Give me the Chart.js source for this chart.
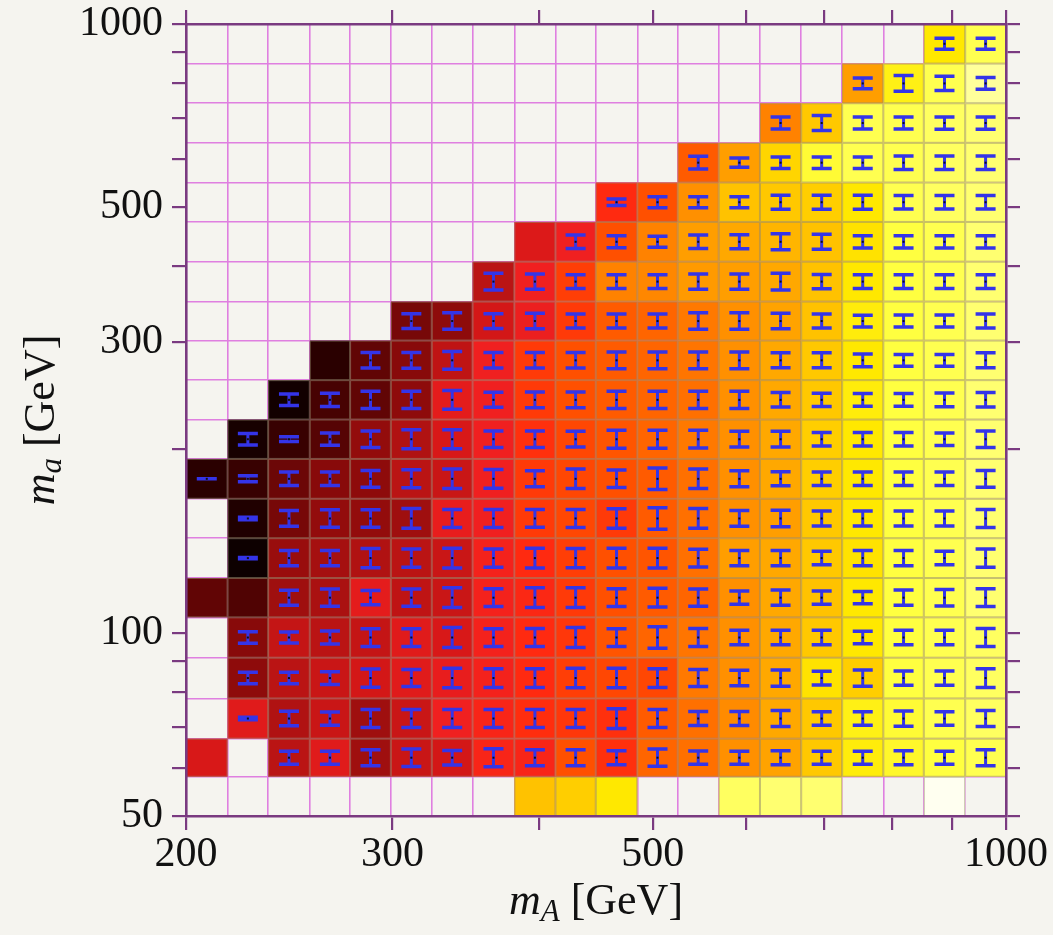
<!DOCTYPE html>
<html>
<head>
<meta charset="utf-8">
<title>m_A – m_a scan</title>
<script src="https://cdn.jsdelivr.net/npm/chart.js@4.4.1/dist/chart.umd.min.js"></script>
<style>
  html, body { margin: 0; padding: 0; background: #f5f4ef; }
  #wrap { width: 1053px; height: 935px; }
</style>
</head>
<body>
<div id="wrap"><canvas id="scan" width="1053" height="935"></canvas></div>
<script>
// ── scan binning (GeV) ─────────────────────────────
const mAEdges = [200, 217, 235, 255, 276, 299, 324, 351, 381, 413, 447, 485, 525, 569, 617, 669, 725, 786, 851, 923, 1000];
const maEdges = [50, 58, 67, 78, 91, 106, 123, 143, 166, 193, 224, 260, 302, 350, 407, 473, 549, 638, 741, 861, 1000];

const mATicks = [200, 300, 400, 500, 600, 700, 800, 900, 1000];
const mALabels = [200, 300, 500, 1000];
const maTicks = [50, 60, 70, 80, 90, 100, 200, 300, 400, 500, 600, 700, 800, 900, 1000];
const maLabels = [50, 100, 300, 500, 1000];

const _ = null;
// colour value of each cell, rows from m_a = 50 GeV upwards, columns from m_A = 200 GeV
const cellValue = [
  [_, _, _, _, _, _, _, _, .82, .84, .88, _, _, .96, .97, .97, _, _, 1.0, _],
  [.40, _, .34, .42, .29, .37, .39, .48, .48, .60, .52, .64, .66, .73, .77, .83, .89, .92, .94, .95],
  [_, .42, .32, .37, .29, .37, .46, .48, .51, .54, .52, .62, .66, .72, .78, .83, .90, .93, .95, .96],
  [_, .26, .34, .37, .39, .42, .44, .47, .50, .56, .58, .58, .68, .73, .78, .87, .84, .94, .95, .96],
  [_, .25, .36, .34, .36, .42, .40, .47, .50, .54, .61, .64, .67, .73, .78, .83, .88, .94, .95, .96],
  [.18, .15, .29, .31, .43, .35, .37, .47, .49, .55, .60, .62, .64, .73, .78, .82, .88, .94, .95, .97],
  [_, .01, .28, .30, .32, .34, .37, .47, .50, .56, .60, .61, .66, .76, .78, .83, .87, .94, .95, .97],
  [_, .05, .22, .27, .27, .29, .44, .46, .55, .58, .55, .62, .66, .73, .76, .83, .88, .94, .95, .97],
  [.07, .10, .20, .25, .26, .34, .37, .46, .55, .58, .60, .62, .66, .73, .78, .84, .88, .94, .95, .97],
  [_, .03, .10, .16, .27, .32, .40, .46, .52, .58, .61, .64, .68, .73, .78, .84, .88, .94, .95, .97],
  [_, _, .02, .13, .18, .26, .43, .46, .55, .60, .62, .64, .66, .73, .78, .83, .89, .94, .95, .97],
  [_, _, _, .07, .18, .25, .35, .46, .55, .60, .62, .64, .67, .73, .78, .83, .88, .94, .95, .97],
  [_, _, _, _, _, .22, .26, .39, .45, .55, .62, .64, .68, .73, .77, .82, .89, .94, .95, .97],
  [_, _, _, _, _, _, _, .34, .46, .56, .70, .71, .75, .76, .78, .82, .88, .94, .95, .97],
  [_, _, _, _, _, _, _, _, .41, .46, .60, .70, .76, .78, .80, .82, .87, .94, .95, .97],
  [_, _, _, _, _, _, _, _, _, _, .50, .60, .73, .82, .83, .84, .88, .95, .96, .97],
  [_, _, _, _, _, _, _, _, _, _, _, _, .62, .76, .85, .93, .95, .95, .96, .97],
  [_, _, _, _, _, _, _, _, _, _, _, _, _, _, .70, .83, .95, .95, .96, .97],
  [_, _, _, _, _, _, _, _, _, _, _, _, _, _, _, _, .76, .90, .95, .98],
  [_, _, _, _, _, _, _, _, _, _, _, _, _, _, _, _, _, _, .88, .95]
];

// spread of each cell, as a fraction of the bin height
const cellError = [
  [_, _, _, _, _, _, _, _, _, _, _, _, _, _, _, _, _, _, _, _],
  [_, _, .34, .34, .42, .46, .38, .47, .42, .42, .37, .45, .35, .34, .37, .34, .34, .37, .34, .42],
  [_, .06, .36, .33, .45, .45, .45, .45, .45, .45, .49, .45, .35, .35, .40, .34, .34, .38, .34, .40],
  [_, .28, .28, .31, .45, .42, .48, .46, .46, .48, .48, .46, .42, .38, .40, .34, .40, .35, .35, .46],
  [_, .29, .27, .32, .44, .44, .50, .44, .45, .50, .44, .53, .45, .36, .36, .36, .31, .36, .36, .45],
  [_, _, .38, .44, .36, .44, .50, .45, .50, .50, .45, .48, .44, .34, .39, .34, .31, .39, .42, .45],
  [_, .03, .38, .38, .48, .46, .50, .46, .50, .48, .50, .50, .45, .38, .38, .34, .38, .38, .34, .46],
  [_, .06, .40, .44, .44, .50, .46, .46, .45, .46, .49, .55, .50, .40, .42, .38, .38, .38, .38, .46],
  [0, .15, .34, .34, .42, .45, .49, .47, .40, .49, .44, .54, .49, .40, .35, .34, .34, .34, .34, .42],
  [_, .29, .12, .31, .42, .48, .48, .42, .42, .40, .46, .46, .45, .40, .40, .34, .34, .34, .32, .42],
  [_, _, .29, .34, .44, .44, .48, .38, .40, .40, .44, .44, .44, .44, .37, .34, .32, .32, .35, .37],
  [_, _, _, _, .39, .40, .45, .39, .39, .39, .42, .42, .42, .42, .38, .38, .32, .30, .30, .38],
  [_, _, _, _, _, .38, .42, .38, .40, .36, .36, .36, .42, .42, .40, .36, .30, .31, .31, .36],
  [_, _, _, _, _, _, _, .42, .38, .34, .34, .34, .38, .38, .42, .36, .34, .34, .34, .34],
  [_, _, _, _, _, _, _, _, _, .34, .30, .28, .34, .35, .40, .38, .31, .31, .31, .31],
  [_, _, _, _, _, _, _, _, _, _, .17, .28, .28, .28, .35, .35, .35, .34, .34, .34],
  [_, _, _, _, _, _, _, _, _, _, _, _, .32, .23, .29, .29, .29, .34, .34, .34],
  [_, _, _, _, _, _, _, _, _, _, _, _, _, _, .30, .38, .30, .30, .31, .31],
  [_, _, _, _, _, _, _, _, _, _, _, _, _, _, _, _, .27, .40, .36, .30],
  [_, _, _, _, _, _, _, _, _, _, _, _, _, _, _, _, _, _, .28, .28]
];

// ── colour scale ──────────────────────────────────
const heatStops = [
  [0.00, [8, 0, 0]],     [0.07, [42, 0, 0]],    [0.15, [80, 3, 3]],
  [0.25, [136, 10, 10]], [0.32, [176, 18, 18]], [0.40, [216, 24, 24]],
  [0.46, [240, 32, 32]], [0.50, [255, 42, 16]], [0.55, [255, 58, 8]],
  [0.60, [255, 80, 0]],  [0.66, [255, 112, 0]], [0.73, [255, 144, 0]],
  [0.78, [255, 168, 0]], [0.83, [255, 200, 0]], [0.88, [255, 232, 0]],
  [0.94, [255, 255, 64]], [0.97, [255, 255, 112]], [1.00, [255, 255, 240]]
];

function heatColor(v) {
  for (let k = 1; k < heatStops.length; k++) {
    const [v1, c1] = heatStops[k];
    if (v <= v1) {
      const [v0, c0] = heatStops[k - 1];
      const t = (v - v0) / (v1 - v0);
      const c = c0.map((a, n) => Math.round(a + (c1[n] - a) * t));
      return `rgb(${c[0]},${c[1]},${c[2]})`;
    }
  }
  return 'rgb(255,255,240)';
}

const purple = '#7a3a80';
const meshPink = '#df7fe0';
const barBlue = '#3434e8';
const serif = "'Liberation Serif', 'DejaVu Serif', serif";

// ── plugins ───────────────────────────────────────
const paper = {
  id: 'paper',
  beforeDraw(chart) {
    const { ctx, width, height } = chart;
    ctx.save();
    ctx.fillStyle = '#f5f4ef';
    ctx.fillRect(0, 0, width, height);
    ctx.restore();
  }
};

const heatmap = {
  id: 'heatmap',
  beforeDatasetsDraw(chart) {
    const { ctx, scales: { x, y } } = chart;
    ctx.save();
    cellValue.forEach((row, j) => row.forEach((v, i) => {
      if (v === null) return;
      const x0 = x.getPixelForValue(mAEdges[i]);
      const x1 = x.getPixelForValue(mAEdges[i + 1]);
      const y0 = y.getPixelForValue(maEdges[j + 1]);
      const y1 = y.getPixelForValue(maEdges[j]);
      ctx.fillStyle = heatColor(v);
      ctx.fillRect(x0, y0, x1 - x0, y1 - y0);
      ctx.strokeStyle = 'rgba(150,140,110,0.55)';
      ctx.lineWidth = 1;
      ctx.strokeRect(x0 + 0.5, y0 + 0.5, x1 - x0 - 1, y1 - y0 - 1);
    }));
    ctx.restore();
  },
  afterDatasetsDraw(chart) {
    const { ctx, scales: { x, y } } = chart;
    ctx.save();
    cellError.forEach((row, j) => row.forEach((e, i) => {
      if (e === null) return;
      const lo = maEdges[j], hi = maEdges[j + 1];
      const mid = Math.sqrt(lo * hi);
      const f = Math.pow(hi / lo, e / 2);
      const cx = x.getPixelForValue(Math.sqrt(mAEdges[i] * mAEdges[i + 1]));
      const cy = y.getPixelForValue(mid);
      const yt = y.getPixelForValue(mid * f);
      const yb = y.getPixelForValue(mid / f);
      ctx.strokeStyle = barBlue;
      ctx.lineWidth = 3;
      ctx.beginPath();
      ctx.moveTo(cx, yt); ctx.lineTo(cx, yb);
      ctx.stroke();
      ctx.lineWidth = 3.5;
      ctx.beginPath();
      ctx.moveTo(cx - 10, yt); ctx.lineTo(cx + 10, yt);
      ctx.moveTo(cx - 10, yb); ctx.lineTo(cx + 10, yb);
      ctx.stroke();
      ctx.fillStyle = '#111';
      ctx.fillRect(cx - 1, cy - 1, 2, 2);
    }));
    ctx.restore();
  }
};

// m_X [GeV] with italic m and subscript
function massTitle(ctx, sub, cx, baseline) {
  const parts = [
    { t: 'm', f: `italic 44px ${serif}`, dy: 0 },
    { t: sub, f: `italic 31px ${serif}`, dy: 7 },
    { t: ' [GeV]', f: `44px ${serif}`, dy: 0 }
  ];
  let total = 0;
  parts.forEach(p => { ctx.font = p.f; p.w = ctx.measureText(p.t).width; total += p.w; });
  let px = cx - total / 2;
  ctx.fillStyle = '#111';
  ctx.textBaseline = 'alphabetic';
  ctx.textAlign = 'left';
  parts.forEach(p => { ctx.font = p.f; ctx.fillText(p.t, px, baseline + p.dy); px += p.w; });
}

const axisTitles = {
  id: 'axisTitles',
  afterDraw(chart) {
    const { ctx, chartArea: a } = chart;
    ctx.save();
    massTitle(ctx, 'A', (a.left + a.right) / 2, 914);
    ctx.translate(54, (a.top + a.bottom) / 2);
    ctx.rotate(-Math.PI / 2);
    massTitle(ctx, 'a', 0, 0);
    ctx.restore();
  }
};

// ── axes ──────────────────────────────────────────
function tickAxis(position, ticks, labels, size, showLabels) {
  const horizontal = position === 'top' || position === 'bottom';
  return {
    type: 'logarithmic',
    position,
    min: ticks[0],
    max: ticks[ticks.length - 1],
    afterBuildTicks: s => { s.ticks = ticks.map(v => ({ value: v })); },
    afterFit: s => {
      if (horizontal) s.height = size; else s.width = size;
      // labels at the frame corners may hang over the frame
      s.paddingTop = s.paddingBottom = s.paddingLeft = s.paddingRight = 0;
    },
    grid: { drawOnChartArea: false, drawTicks: true, tickLength: 14, color: purple, lineWidth: 2.2 },
    border: { display: true, color: purple, width: 2.6, z: 1 },
    ticks: {
      display: showLabels,
      autoSkip: false,
      maxRotation: 0,
      padding: horizontal ? 0 : 9,
      color: '#111',
      font: { family: serif, size: 42 },
      callback: v => labels.includes(v) ? String(v) : ''
    }
  };
}

function meshAxis(position, edges) {
  const horizontal = position === 'bottom';
  return {
    type: 'logarithmic',
    position,
    min: edges[0],
    max: edges[edges.length - 1],
    afterBuildTicks: s => { s.ticks = edges.map(v => ({ value: v })); },
    afterFit: s => {
      if (horizontal) s.height = 0; else s.width = 0;
      s.paddingTop = s.paddingBottom = s.paddingLeft = s.paddingRight = 0;
    },
    grid: { drawOnChartArea: true, drawTicks: false, color: meshPink, lineWidth: 1.6, z: -1 },
    border: { display: false },
    ticks: { display: false }
  };
}

new Chart(document.getElementById('scan'), {
  type: 'scatter',
  data: { datasets: [] },
  options: {
    responsive: false,
    animation: false,
    devicePixelRatio: 1,
    layout: { padding: 0 },
    plugins: { legend: { display: false }, tooltip: { enabled: false } },
    scales: {
      x: tickAxis('bottom', mATicks, mALabels, 119, true),
      x2: tickAxis('top', mATicks, mALabels, 24, false),
      xg: meshAxis('bottom', mAEdges),
      y: tickAxis('left', maTicks, maLabels, 186, true),
      y2: tickAxis('right', maTicks, maLabels, 47, false),
      yg: meshAxis('left', maEdges)
    }
  },
  plugins: [paper, heatmap, axisTitles]
});
</script>
</body>
</html>
